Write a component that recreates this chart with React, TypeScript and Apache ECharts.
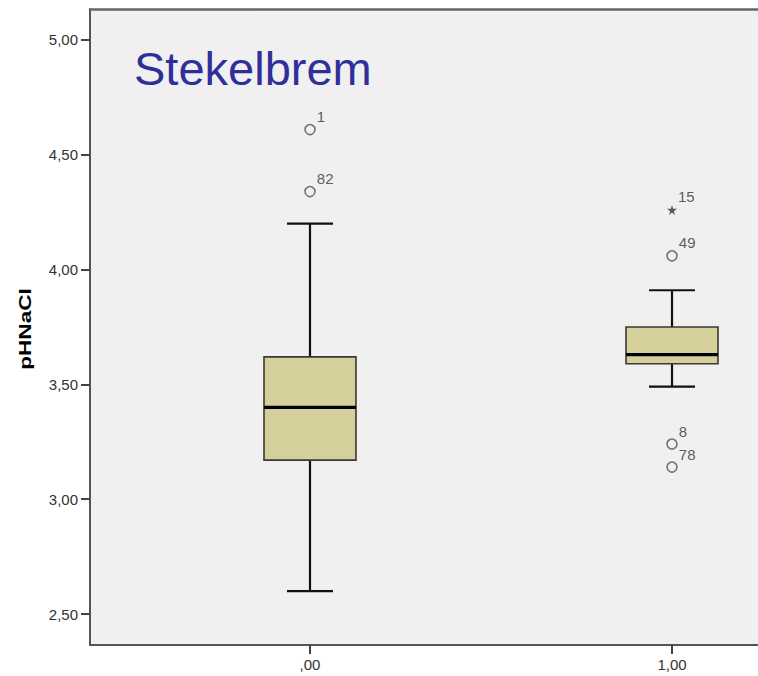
import React, { useEffect, useRef } from "react";
import * as echarts from "echarts";

const categories = [",00", "1,00"];
const whiskerLow = [2.6, 3.49];
const q1 = [3.17, 3.59];
const median = [3.4, 3.63];
const q3 = [3.62, 3.75];
const whiskerHigh = [4.2, 3.91];

const outlierCat = [0, 0, 1, 1, 1];
const outlierValue = [4.61, 4.34, 4.06, 3.24, 3.14];
const outlierId = ["1", "82", "49", "8", "78"];

const extremeCat = [1];
const extremeValue = [4.26];
const extremeId = ["15"];

const yTicks = [2.5, 3.0, 3.5, 4.0, 4.5, 5.0];
const xTicks = [0, 1];

const FONT = "'Liberation Sans', Arial, sans-serif";
const STAR =
  "path://M50,0 L61,35 L98,35 L68,57 L79,91 L50,70 L21,91 L32,57 L2,35 L39,35 Z";

export default function App() {
  const ref = useRef<HTMLDivElement>(null);

  useEffect(() => {
    if (!ref.current) return;
    document.body.style.overflow = "hidden";
    const chart = echarts.init(ref.current, null, { renderer: "svg" });

    const boxData = categories.map((_, i) => [
      i,
      whiskerLow[i],
      q1[i],
      median[i],
      q3[i],
      whiskerHigh[i],
    ]);

    const labelStyle = {
      show: true,
      position: "right" as const,
      distance: 1,
      offset: [0, -13],
      fontSize: 15,
      color: "#333",
      fontFamily: FONT,
    };

    const Y_MIN = 2.365;

    const option: any = {
      animation: false,
      backgroundColor: "#fff",
      title: {
        text: "Stekelbrem",
        left: 134,
        top: 45,
        padding: 0,
        textStyle: {
          fontSize: 47,
          fontWeight: "normal",
          color: "#2f2f9c",
          fontFamily: FONT,
        },
      },
      grid: {
        left: 90,
        right: 0,
        top: 9,
        bottom: 31,
        show: true,
        backgroundColor: "#f0f0f0",
        borderWidth: 0,
      },
      xAxis: [
        {
          type: "value",
          min: -0.6077,
          max: 1.6077,
          position: "bottom",
          splitLine: { show: false },
          axisLine: { show: true, onZero: false, lineStyle: { color: "#555", width: 2 } },
          axisTick: { show: false },
          axisLabel: { show: false },
        },
        {
          type: "value",
          min: -0.6077,
          max: 1.6077,
          position: "top",
          splitLine: { show: false },
          axisLine: { show: true, onZero: false, lineStyle: { color: "#666", width: 2.5 } },
          axisTick: { show: false },
          axisLabel: { show: false },
        },
      ],
      yAxis: {
        type: "value",
        min: Y_MIN,
        max: 5.135,
        position: "left",
        splitLine: { show: false },
        axisLine: { show: true, onZero: false, lineStyle: { color: "#555", width: 2 } },
        axisTick: {
          show: true,
          customValues: yTicks,
          length: 9,
          lineStyle: { color: "#444", width: 2 },
        },
        axisLabel: {
          customValues: yTicks,
          formatter: (v: number) => v.toFixed(2).replace(".", ","),
          fontSize: 15,
          color: "#333",
          fontFamily: FONT,
          margin: 12,
        },
      },
      series: [
        {
          type: "custom",
          xAxisIndex: 0,
          data: boxData,
          encode: { x: 0, y: [1, 2, 3, 4, 5] },
          renderItem: (params: any, api: any) => {
            const x = api.value(0);
            const lo = api.coord([x, api.value(1)]);
            const b1 = api.coord([x, api.value(2)]);
            const md = api.coord([x, api.value(3)]);
            const b3 = api.coord([x, api.value(4)]);
            const hi = api.coord([x, api.value(5)]);
            const cx = lo[0];
            const hw = 46;
            const cw = 23;
            const lineStyle = { stroke: "#111", lineWidth: 2.2 };
            return {
              type: "group",
              children: [
                {
                  type: "line",
                  shape: { x1: cx, y1: lo[1], x2: cx, y2: b1[1] },
                  style: lineStyle,
                },
                {
                  type: "line",
                  shape: { x1: cx, y1: b3[1], x2: cx, y2: hi[1] },
                  style: lineStyle,
                },
                {
                  type: "line",
                  shape: { x1: cx - cw, y1: lo[1], x2: cx + cw, y2: lo[1] },
                  style: lineStyle,
                },
                {
                  type: "line",
                  shape: { x1: cx - cw, y1: hi[1], x2: cx + cw, y2: hi[1] },
                  style: lineStyle,
                },
                {
                  type: "rect",
                  shape: {
                    x: cx - hw,
                    y: b3[1],
                    width: hw * 2,
                    height: b1[1] - b3[1],
                  },
                  style: { fill: "#d5cf9c", stroke: "#3a3a30", lineWidth: 1.6 },
                },
                {
                  type: "line",
                  shape: { x1: cx - hw, y1: md[1], x2: cx + hw, y2: md[1] },
                  style: { stroke: "#000", lineWidth: 3.2 },
                },
              ],
            };
          },
          z: 2,
        },
        {
          type: "scatter",
          xAxisIndex: 0,
          symbol: "circle",
          symbolSize: 10,
          itemStyle: { color: "#f0f0f0", borderColor: "#555", borderWidth: 1.6 },
          data: outlierValue.map((v, i) => ({
            value: [outlierCat[i], v],
            name: outlierId[i],
          })),
          label: { ...labelStyle, formatter: (p: any) => p.name },
          z: 3,
        },
        {
          type: "scatter",
          xAxisIndex: 0,
          symbol: STAR,
          symbolSize: 10,
          itemStyle: { color: "#333" },
          data: extremeValue.map((v, i) => ({
            value: [extremeCat[i], v],
            name: extremeId[i],
          })),
          label: { ...labelStyle, formatter: (p: any) => p.name },
          z: 3,
        },
      ],
    };

    chart.setOption(option);

    // x-axis ticks and category labels, positioned through the chart's own scales
    const graphics: any[] = [
      {
        type: "text",
        x: 25.5,
        y: 329,
        rotation: Math.PI / 2,
        scaleX: 1.33,
        style: {
          text: "pHNaCl",
          font: `bold 17px ${FONT}`,
          fill: "#000",
          align: "center",
          verticalAlign: "middle",
        },
      },
    ];
    xTicks.forEach((v, i) => {
      const p = chart.convertToPixel({ xAxisIndex: 0, yAxisIndex: 0 }, [v, Y_MIN]) as number[];
      if (!p) return;
      graphics.push({
        type: "line",
        shape: { x1: p[0], y1: p[1], x2: p[0], y2: p[1] + 9 },
        style: { stroke: "#444", lineWidth: 2 },
        z: 10,
      });
      graphics.push({
        type: "text",
        x: p[0],
        y: p[1] + 12,
        style: {
          text: categories[i],
          font: `15px ${FONT}`,
          fill: "#333",
          align: "center",
          verticalAlign: "top",
        },
        z: 10,
      });
    });
    chart.setOption({ graphic: graphics });

    return () => chart.dispose();
  }, []);

  return (
    <div
      ref={ref}
      style={{ position: "fixed", left: 0, top: 0, width: 892, height: 676 }}
    />
  );
}
